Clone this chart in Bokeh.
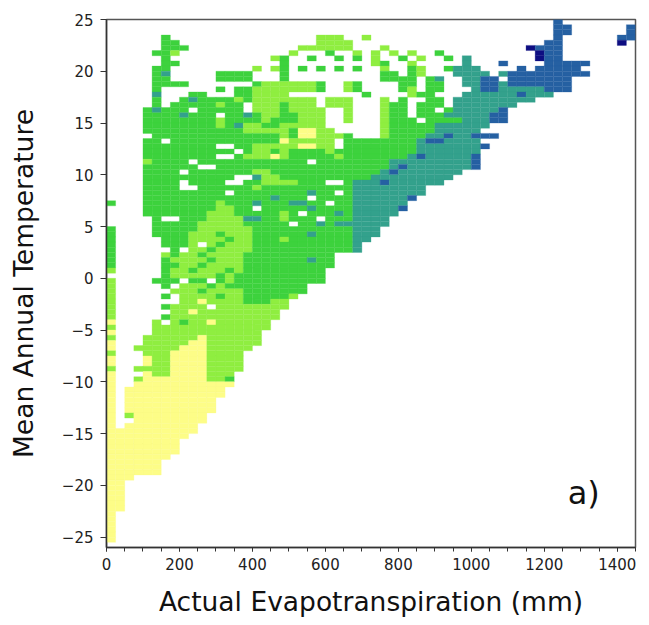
from bokeh.plotting import figure
from bokeh.models import ColumnDataSource, FixedTicker, CustomJSTickFormatter, Label
from bokeh.embed import file_html
from bokeh.resources import INLINE

# ---- data (AET bins of 25 mm, temperature bins of 0.5 C) ----
AET_BIN = 25
T_BIN = 0.5
N_COLS = 58
T_TOP = 25.0   # upper edge of the first row

# one entry per temperature row, top (25 C) to bottom (-25.5 C);
# tokens "a-b:code" give AET column ranges and their class
ROWS_TOP = [
    "49:b",
    "49-50:b 57:b",
    "49-50:b 57:b",
    "6:g 23-25:l 28:l 49:b 56-57:b",
    "6-7:g 23-26:l 48-49:b 56:n",
    "6-8:g 21-26:l 30:l 46:n 47-49:b",
    "5-6:g 7:l 20:l 24:g 27:l 29:l 31:l 33:l 36:g 47:n 48-49:b",
    "6:g 18:l 19:g 22:g 25:g 27:g 29:l 32:g 34:l 37:g 39:t 47:n 48-49:b",
    "6-7:g 19:g 29:l 30:g 33:l 39:t 43:b 48-52:b",
    "5-6:g 16:l 18:l 19:g 21:g 23:g 25:g 27:g 30:l 33:g 34:l 37:g 38-40:t 45:b 47-51:b",
    "5:g 6:t 12-15:g 19:g 30-31:g 33:g 34:l 38-41:t 43:t 44-52:b",
    "5-6:g 12-15:g 19:g 30-33:g 35:g 36:t 39-40:t 41-42:b 44-50:b",
    "5-8:g 16:g 17-22:l 23:g 26:l 27:g 32-33:g 35-36:g 39-40:t 41-42:b 43:t 44-50:b",
    "5:g 12:g 14-15:g 16-22:l 23:g 26:l 27:g 32:g 33:l 35-36:g 40:t 41-42:b 43-47:t 48-50:b",
    "5:t 9-10:g 14-15:g 16-19:l 28:g 33:l 34-35:g 39-44:t 45:b 46-48:t",
    "5:g 8-15:g 9:t 14:l 16-22:l 24-26:l 30:l 32:g 35-36:g 38-46:t",
    "5:g 7-11:g 12:l 13-14:g 16-18:l 19:g 20-22:l 24-26:l 30:l 31-32:g 34-36:g 38-44:t",
    "4-8:g 5:t 10-14:g 16-18:l 19:g 20-23:l 26:l 30:l 31-32:g 34-35:g 37:g 38-42:t 43:b",
    "4-20:g 8:t 12:. 15:t 17-18:l 21-23:l 26:l 30:l 31-32:g 34-36:g 37-41:t 42-43:b",
    "4-20:g 12:l 17:l 21-23:l 26:l 30:l 31-33:g 35-38:g 39-41:t 42-43:b",
    "4-20:g 12:l 14:t 15-16:l 19-23:l 30:l 31-34:g 35:g 36-41:t",
    "4-20:g 15-18:l 19:l 21-22:y 23-24:l 30:l 31-34:g 35:g 36-40:t",
    "4-20:g 4:. 19:l 21-22:y 23-25:l 26:g 30:l 31-33:g 34:g 35-36:t 37:b 38-39:t 40-42:b",
    "4-20:g 6:. 19:y 20-24:l 26-33:g 34:t 35-36:b 37-40:t",
    "4-20:g 12-13:. 16-18:l 19-20:l 21-22:y 23-24:l 26-33:g 34-40:t 41:b",
    "4-24:g 14:. 16-17:l 19:l 24:l 25-33:g 34-40:t",
    "4-32:g 12-13:. 15-17:l 18:y 19:l 25:l 33-39:t 34:b 40:b",
    "4:l 5-30:g 9:. 22:. 31-39:t 40:b",
    "4-30:g 10-11:. 31-39:t 32:b 40:b",
    "4-29:g 8:. 16-17:l 30-38:t 31:b",
    "4-28:g 14-15:. 16:t 17-18:l 29-37:t",
]
ROWS_MIDDLE = [
    "4-26:g 8:. 13-14:. 16:g 17-20:l 24-25:. 27-36:t 30:b",
    "4-26:g 8-9:. 16:l 27-34:t",
    "4-26:g 13:. 22:t 25:. 27-34:t",
    "4-26:g 18:t 22:. 27-33:t 33:b",
    "0:g 4-26:g 12:l 16:t 20-21:t 24:. 27-32:t",
    "4-26:g 12-13:l 16:. 22:t 27-32:t 32:b",
    "4-26:g 11-13:l 19:l 21:. 25:t 27-31:t",
    "5-26:g 6-7:. 11-14:l 15-16:t 19:l 23:. 27-30:t",
    "5-26:g 10-14:l 20:. 23:t 25-26:t 27-30:t",
    "0:g 5-26:g 10-15:l 27-29:t",
    "0:g 5-26:g 9-15:l 12:g 22:t 27-29:t",
    "0:g 6-26:g 9-15:l 13:g 19:l 27-28:t",
    "0:g 6-26:g 9-15:l 10:. 12:g 27:t",
    "0:g 7-26:g 8:. 9-15:l 11:g 27:t",
    "0:g 6:l 7-24:g 8-9:l 11-14:l",
    "0:g 6-24:g 7-10:l 12-14:l 22:t",
    "0:g 6-24:g 8-14:l 10:g",
    "0:l 6-23:g 7-14:l 9:g 13:g",
    "6-23:g 7-13:l 12:g",
    "0:l 5-23:g 8:. 9-10:g 11:. 12-15:g 13:l",
    "0:l 6:g 8:l 9-10:l 11:g 12:l 13-21:g",
    "0:l 7-14:l 10:g 15-21:g",
    "0:l 6:g 8-14:l 12:g 15-19:g 20:l",
    "0:l 8-18:l 10:y 15-17:g 19:l",
    "0:l 6:g 7-18:l 11:. 19:l",
    "0:l 7-18:l 9:y",
    "0:l 6:g 7-18:l",
    "0:y 5-17:l 6:. 8:g 11:y",
    "0:l 5-17:l",
    "0:y 5-16:l",
    "0:l 4-16:l 10:y",
    "0:y 4-16:l 9-10:y",
    "0:y 3:l 4-15:l 8-10:y",
    "0:l 4-6:l 7-10:y 11-14:l",
    "0:y 4:y 5-6:l 7-10:y 11-14:l",
    "0:y 4:y 5-6:l 7-10:y 11-14:l",
    "0:l 3:l 4-6:l 7-10:y 11-14:l",
    "0:y 4:y 5-6:l 7-10:y 11-13:l",
    "0:y 3:l 4-10:y 11-12:l 13:g",
]
ROWS_BOTTOM = [
    "0:y 3-13:y",
    "0:y 2-12:y",
    "0:y 2-12:y",
    "0:y 2-11:y",
    "0:y 2-11:y",
    "0:y 2-11:y",
    "0:y 2:l 3-10:y",
    "0:y 3-10:y",
    "0:y 2-9:y",
    "0-9:y",
    "0-8:y",
    "0-7:y",
    "0-7:y",
    "0-7:y",
    "0-6:y",
    "0-5:y",
    "0-5:y",
    "0-5:y",
    "0-2:y",
    "0-1:y", "0-1:y", "0-1:y", "0-1:y", "0-1:y", "0-1:y",
    "0:y", "0:y", "0:y", "0:y", "0:y", "0:y",
]

CLASS_COLORS = {
    "y": "#FDFD87",
    "l": "#8FEE40",
    "g": "#3DD23D",
    "t": "#33A18C",
    "b": "#2560A2",
    "n": "#0E0E82",
}

X_TICKS = [0, 200, 400, 600, 800, 1000, 1200, 1400]
X_MINOR = list(range(0, 1451, 50))
Y_TICKS = [-25, -20, -15, -10, -5, 0, 5, 10, 15, 20, 25]


def parse_row(spec):
    cells = ["."] * N_COLS
    for tok in spec.split():
        rng, code = tok.split(":")
        if "-" in rng:
            a, b = (int(v) for v in rng.split("-"))
        else:
            a = b = int(rng)
        for c in range(a, b + 1):
            cells[c] = code
    return cells


xs, ys, cols = [], [], []
for r, spec in enumerate(ROWS_TOP + ROWS_MIDDLE + ROWS_BOTTOM):
    for c, code in enumerate(parse_row(spec)):
        if code == ".":
            continue
        xs.append(c * AET_BIN + AET_BIN / 2)
        ys.append(T_TOP - r * T_BIN - T_BIN / 2)
        cols.append(CLASS_COLORS[code])

src = ColumnDataSource(dict(x=xs, y=ys, color=cols))

p = figure(width=649, height=625, x_range=(0, 1450), y_range=(-26, 25),
           output_backend="svg", toolbar_location=None,
           min_border_left=106, min_border_right=14, min_border_top=19, min_border_bottom=78)
p.background_fill_color = "white"
p.border_fill_color = "white"
p.outline_line_color = "#555555"
p.outline_line_width = 1.5
p.grid.visible = False

p.rect(x="x", y="y", width=AET_BIN, height=T_BIN, fill_color="color",
       line_color="color", line_width=0.3, source=src)

FONT = "DejaVu Sans"
for ax in (p.xaxis[0], p.yaxis[0]):
    ax.axis_line_color = "#333333"
    ax.axis_line_width = 1.5
    ax.major_tick_line_color = "#333333"
    ax.minor_tick_line_color = "#333333"
    ax.major_tick_in = 0
    ax.minor_tick_in = 0
    ax.major_label_text_font = FONT
    ax.major_label_text_font_size = "15px"
    ax.major_label_text_color = "#222222"
    ax.axis_label_text_font = FONT
    ax.axis_label_text_font_size = "26.5px"
    ax.axis_label_text_font_style = "normal"
    ax.axis_label_text_color = "#111111"

p.xaxis.ticker = FixedTicker(ticks=X_TICKS, minor_ticks=X_MINOR)
p.xaxis.major_tick_out = 4
p.xaxis.minor_tick_out = 4
p.xaxis.major_label_standoff = 6
p.xaxis.axis_label = "Actual Evapotranspiration (mm)"
p.xaxis.axis_label_standoff = 13

p.yaxis.ticker = FixedTicker(ticks=Y_TICKS, minor_ticks=[])
p.yaxis.major_tick_out = 6
p.yaxis.minor_tick_out = 0
p.yaxis.major_label_standoff = 7
p.yaxis.formatter = CustomJSTickFormatter(code="return String(tick).replace('-', '\\u2212')")
p.yaxis.axis_label = "Mean Annual Temperature"
p.yaxis.axis_label_standoff = 20

p.add_layout(Label(x=1308, y=-20.7, text="a)", text_font=FONT, text_font_size="32px",
                   text_align="center", text_baseline="middle", text_color="#111111"))

open("out.html", "w").write(file_html(p, INLINE))
